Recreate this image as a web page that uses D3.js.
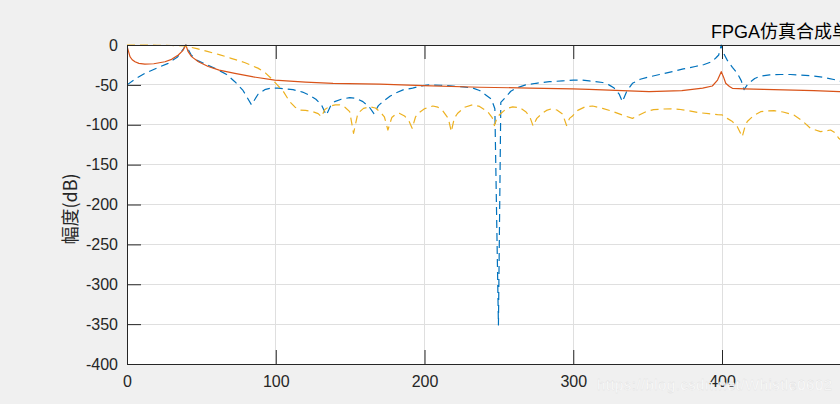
<!DOCTYPE html>
<html>
<head>
<meta charset="utf-8">
<script src="https://cdn.jsdelivr.net/npm/d3@7/dist/d3.min.js"></script>
<style>
  html, body { margin: 0; padding: 0; background: #f0f0f0; }
  svg { display: block; }
</style>
</head>
<body>
<svg id="chart" width="840" height="404"></svg>
<script>
// ---- data ----
const titleText = "FPGA仿真合成单频信号频谱";
const yLabel = "幅度(dB)";
const xTicks = [0, 100, 200, 300, 400, 500, 600, 700, 800, 900, 1000];
const yTicks = [0, -50, -100, -150, -200, -250, -300, -350, -400];

const blueX = [0,6,12,20,27.7,34,37.8,39.6,43,46.8,54,61,67,72.5,78,83.7,88,92.6,97,101.5,111.6,118,122.8,127,130.7,134,137,139.6,144,149.7,154,158.6,163,166,169,172,177,181,186,192,199,203,211,219,226,232.4,237,241.4,245,247.3,249.7,251.3,254.8,258,261.5,268,275,284,292.8,300,306,310.7,319.7,324,327.5,331,333,336,339.8,345,351,358,366.6,374,382,388,393,396,397.8,399.5,401.5,403.5,407,410.3,413,414.8,417,419.3,422,426,432,439.4,446,452.8,460,468,477,485];
const blueY = [-50,-42,-35.5,-29,-23,-15,-5,0,-12,-19,-25,-31,-37,-46,-57,-75,-62,-56,-54,-54,-56,-59,-63,-68,-75,-88,-76,-71,-68,-66,-67,-71,-78,-86,-76,-71,-64,-60,-56,-54,-51,-50,-50.5,-51.5,-52.5,-54,-57,-63,-68,-80,-351,-72,-65,-58,-54,-50,-48,-46,-45,-44,-44,-45,-47,-50,-54,-62,-71,-58,-48,-43,-40,-37,-33.4,-30,-27,-24.5,-21,-16,-12.5,0,-12,-19,-28,-35.5,-45,-56,-50,-46,-42,-39,-37.5,-37,-37,-37.6,-38.5,-40.5,-44,-48];

const orangeX = [0,1,2,3.5,5.4,8,12,18,25.5,30,34.5,37.5,39.6,41,43.4,48,54.6,62,72.5,85,99.3,120,138.5,170,199,237,270.5,299.5,310.7,333,351,373,387,393.5,397,399.5,401,402.5,405,407,415,428,461.7,479,490];
const orangeY = [-1,-8,-14.6,-18.5,-21,-23,-24,-23.5,-21,-18,-12.5,-7,0,-8,-14.6,-21,-27,-31.5,-35.5,-40,-44,-46.5,-48,-49,-51,-53,-54,-55,-55.6,-57.3,-58.5,-57.3,-54,-51.4,-44,-33.4,-40,-48,-52,-54.3,-55,-55.6,-57.3,-58.5,-59];

const yellowX = [0,10,20,30,39,47,54.6,62,70,79,88,93,97,101,105,109.4,113,116,120,125,128.5,130.7,133,136,140,143,146.5,149.7,152.3,155.2,159,163,167,170,173,175.4,178,180,183,186.6,189.5,191.7,194,196.6,200,205.6,209,212.3,216,218,220,222.3,227,232.4,237,242.5,245.5,247,249,251.5,255,259.3,264,268.3,271,273,275.5,278.3,282,285.5,289,292.8,295.5,297.5,299.5,303,308,313,319.7,326,333,339.8,344,348.8,354,360,366,371,378,384.6,391,397,400,403.5,407,410.3,413.6,415.5,417,421,426,430,435,441,448.3,454,459.5,466.2,473,476,478.5,482];
const yellowY = [0,0,-0.3,-0.6,-1.2,-4.5,-8.4,-12,-16.7,-22,-29,-35,-42,-50,-58,-71,-78,-81.5,-82,-83.6,-86,-90,-81,-77,-75,-75,-78,-83.6,-110.7,-85.6,-79.5,-77.5,-79,-83.6,-90,-106.6,-91,-87.8,-85.6,-89,-95,-104.5,-90,-84.5,-80,-76.5,-78,-82.5,-92,-108.7,-92,-85.6,-78,-75,-77,-83.6,-91,-101,-90,-85.6,-80,-77.5,-78.5,-84,-91,-101.5,-92,-87,-82,-80,-81.5,-86.5,-101,-92,-89,-82,-77.5,-76.5,-79.4,-83,-87.8,-92,-88,-83.6,-81,-80.3,-80,-80.6,-82.5,-84.9,-86,-87.4,-87.5,-92,-96,-102.4,-115,-102,-96,-89,-83.6,-82.5,-82.4,-84,-87.8,-95,-104.5,-108.7,-106.6,-110,-117,-122];

const seriesList = [
  { name: "blue",   xs: blueX,   ys: blueY,   color: "#0072BD", dash: "8,5" },
  { name: "orange", xs: orangeX, ys: orangeY, color: "#D95319", dash: null },
  { name: "yellow", xs: yellowX, ys: yellowY, color: "#EDB120", dash: "8,5" }
];

// ---- layout ----
const W = 840;
const mLeft = 127, mTop = 45, mBottom = 364, mRight = 1614.5;
const svg = d3.select("#chart");
const x = d3.scaleLinear().domain([0, 1000]).range([mLeft, mRight]);
const y = d3.scaleLinear().domain([0, -400]).range([mTop, mBottom]);
const axColor = "#262626";
const tickFont = "'Liberation Sans', Arial, sans-serif";

// axes background
svg.append("rect").attr("x", mLeft).attr("y", mTop)
  .attr("width", mRight - mLeft).attr("height", mBottom - mTop).attr("fill", "#ffffff");

// grid
const grid = svg.append("g");
grid.selectAll("line.gx").data(xTicks).join("line")
  .attr("x1", d => x(d)).attr("x2", d => x(d))
  .attr("y1", mTop).attr("y2", mBottom)
  .attr("stroke", "#dfdfdf").attr("stroke-width", 1).attr("shape-rendering", "crispEdges");
grid.selectAll("line.gy").data(yTicks).join("line")
  .attr("x1", mLeft).attr("x2", mRight)
  .attr("y1", d => y(d)).attr("y2", d => y(d))
  .attr("stroke", "#dfdfdf").attr("stroke-width", 1).attr("shape-rendering", "crispEdges");

// clip
svg.append("clipPath").attr("id", "clip").append("rect")
  .attr("x", mLeft).attr("y", mTop - 1).attr("width", mRight - mLeft).attr("height", mBottom - mTop + 1);

const plot = svg.append("g").attr("clip-path", "url(#clip)");
seriesList.forEach(s => {
  const pts = s.xs.map((v, i) => [v, s.ys[i]]);
  const line = d3.line().x(d => x(d[0])).y(d => y(d[1]));
  plot.append("path").datum(pts)
    .attr("d", line)
    .attr("fill", "none")
    .attr("stroke", s.color)
    .attr("stroke-width", 1.2)
    .attr("stroke-dasharray", s.dash)
    .attr("stroke-linejoin", "round");
});

// axes
function styleAxis(g) {
  g.selectAll("path.domain").attr("stroke", axColor).attr("stroke-width", 1);
  g.selectAll(".tick line").attr("stroke", axColor).attr("stroke-width", 1);
  g.selectAll(".tick text").attr("fill", axColor).style("font-family", tickFont).style("font-size", "16px");
}
const fmt = d => String(d);
// labels beyond the visible window are not drawn (they are outside the picture)
const xFmt = d => (x(d) < W - 10 ? String(d) : "");
const xAxisB = svg.append("g").attr("transform", `translate(0,${mBottom})`)
  .call(d3.axisBottom(x).tickValues(xTicks).tickFormat(xFmt).tickSize(-14).tickSizeOuter(0).tickPadding(12));
styleAxis(xAxisB);
const xAxisT = svg.append("g").attr("transform", `translate(0,${mTop})`)
  .call(d3.axisTop(x).tickValues(xTicks).tickFormat("").tickSize(-14).tickSizeOuter(0));
styleAxis(xAxisT);
const yAxisL = svg.append("g").attr("transform", `translate(${mLeft},0)`)
  .call(d3.axisLeft(y).tickValues(yTicks).tickFormat(fmt).tickSize(-14).tickSizeOuter(0).tickPadding(9));
styleAxis(yAxisL);
svg.selectAll(".domain").attr("shape-rendering", "crispEdges");

// y label
svg.append("text")
  .attr("transform", `translate(77,209) rotate(-90)`)
  .attr("text-anchor", "middle")
  .attr("fill", axColor)
  .style("font-family", "'Noto Sans CJK SC', 'Liberation Sans', sans-serif")
  .style("font-size", "18px")
  .text(yLabel);

// title
svg.append("text")
  .attr("x", 711).attr("y", 38)
  .attr("fill", "#000")
  .style("font-family", "'Liberation Sans', 'Noto Sans CJK SC', sans-serif")
  .style("font-size", "18px")
  .text(titleText);

// watermark
svg.append("text")
  .attr("x", 597).attr("y", 390)
  .attr("textLength", 235)
  .attr("fill", "#ffffff")
  .attr("stroke", "#dcdcdc")
  .attr("stroke-width", 0.3)
  .style("font-family", "'Liberation Sans', Arial, sans-serif")
  .style("font-size", "15px")
  .text("https://blog.csdn.net/Whistle0602");
</script>
</body>
</html>
